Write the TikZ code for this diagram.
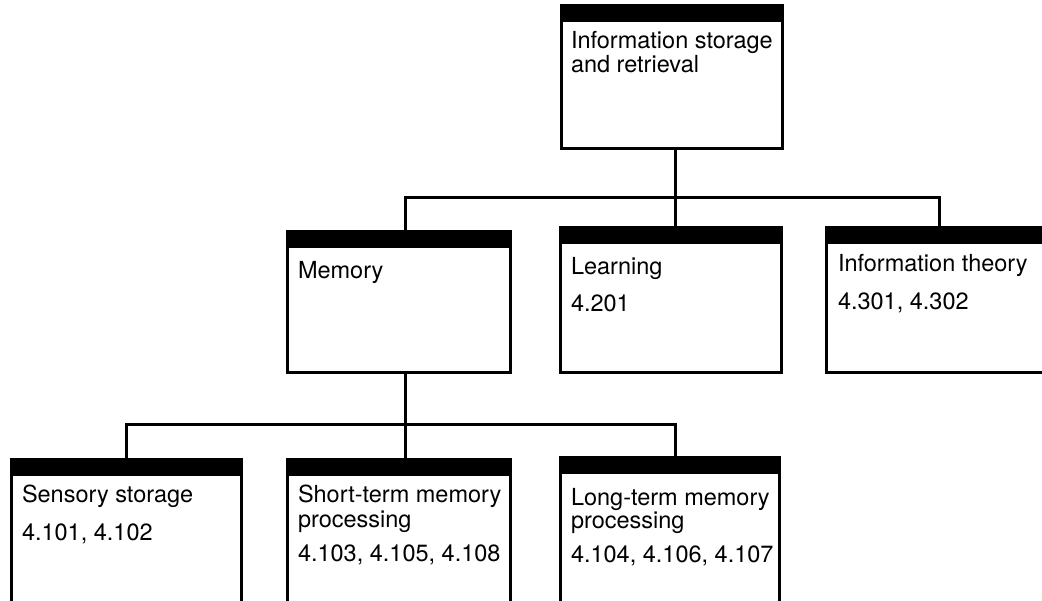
\documentclass[tikz,border=0pt]{standalone}
\usepackage{fontspec}
\setmainfont{TeX Gyre Heros}
\begin{document}
\begin{tikzpicture}[x=1pt,y=-1pt,
  box/.style={draw=black, line width=3pt, fill=white, rectangle, anchor=north west, inner sep=0pt, outer sep=0pt,
    path picture={\fill[black] (path picture bounding box.north west) rectangle ([yshift=-16pt]path picture bounding box.north east);}},
  txt/.style={anchor=base west, inner sep=0pt, outer sep=0pt, font=\fontsize{23.5}{23.5}\selectfont},
  conn/.style={line width=3pt, line cap=rect}]
\path[use as bounding box, clip] (0,0) rectangle (1042,601);
\fill[white] (0,0) rectangle (1042,601);
% boxes
\node[box, minimum width=221pt, minimum height=143pt] (top) at (561,6) {};
\node[box, minimum width=223pt, minimum height=141pt] (mem) at (287,232) {};
\node[box, minimum width=221pt, minimum height=145pt] (learn) at (560,228) {};
\node[box, minimum width=230pt, minimum height=145pt] (info) at (826,228) {};
\node[box, minimum width=230pt, minimum height=160pt] (sens) at (11,460) {};
\node[box, minimum width=223pt, minimum height=160pt] (short) at (287,460) {};
\node[box, minimum width=219pt, minimum height=162pt] (long) at (560,458) {};
% texts
\node[txt] (t1a) at (571,49) {Information storage};
\node[txt] (t1b) at (571,73) {and retrieval};
\node[txt] (t2a) at (298,279) {Memory};
\node[txt] (t3a) at (571,275) {Learning};
\node[txt] (t3b) at (571,312) {4.201};
\node[txt] (t4a) at (838,272) {Information theory};
\node[txt] (t4b) at (838,310) {4.301, 4.302};
\node[txt] (t5a) at (22,503) {Sensory storage};
\node[txt] (t5b) at (22,540) {4.101, 4.102};
\node[txt] (t6a) at (298,503) {Short-term memory};
\node[txt] (t6b) at (298,527) {processing};
\node[txt] (t6c) at (298,561) {4.103, 4.105, 4.108};
\node[txt] (t7a) at (571,505) {Long-term memory};
\node[txt] (t7b) at (571,528) {processing};
\node[txt] (t7c) at (571,562) {4.104, 4.106, 4.107};
% connectors
\coordinate (b1) at (675,198);
\coordinate (b2) at (405,425);
\draw[conn] (top.south -| b1) -- (learn.north -| b1);
\draw[conn] (b1) -| ([xshift=7pt]mem.north);
\draw[conn] (b1) -| ([xshift=-2pt]info.north);
\draw[conn] (mem.south -| b2) -- (short.north -| b2);
\draw[conn] (b2) -| (sens.north);
\draw[conn] (b2) -| ([xshift=5.5pt]long.north);
\end{tikzpicture}
\end{document}
